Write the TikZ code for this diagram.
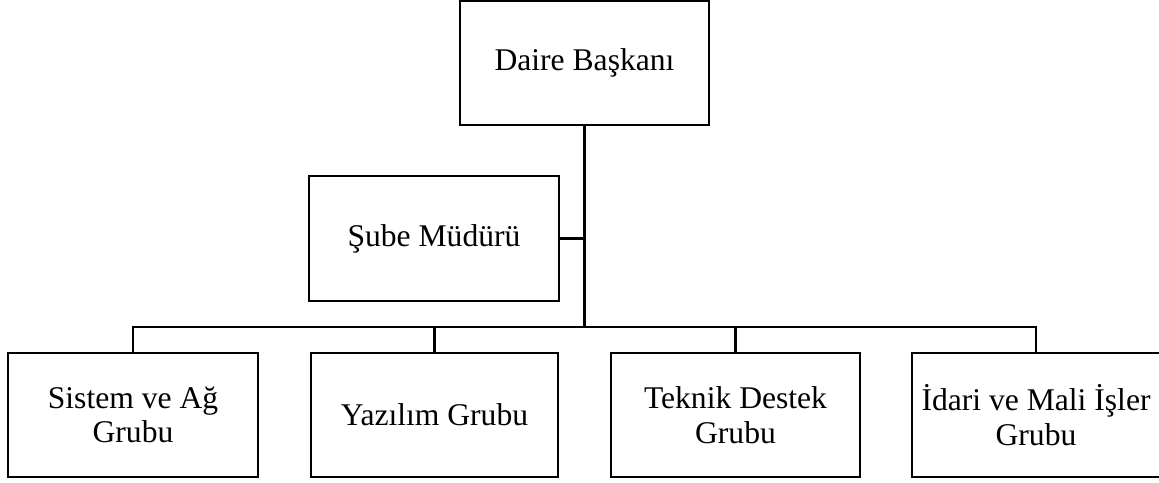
\documentclass[tikz,border=0pt]{standalone}
\usepackage{fontspec}
\setmainfont{Liberation Serif}
\begin{document}
\begin{tikzpicture}[x=0.5pt,y=-0.5pt,
  box/.style={draw=black,line width=1.3pt,rectangle,inner sep=0pt,align=center,
    font=\fontsize{15.8}{17.3}\selectfont,minimum height=62pt},
  conn/.style={draw=black,line width=1.3pt}]
\useasboundingbox (0,0) rectangle (1159,482);
\node[box,minimum width=124.5pt,minimum height=62pt] (d) at (584.5,63) {Daire Başkanı};
\node[box,minimum width=125pt,minimum height=62.5pt] (s) at (434,238.5) {Şube Müdürü};
\node[box,minimum width=125pt] (b1) at (133,415) {Sistem ve Ağ\\Grubu};
\node[box,minimum width=123.5pt] (b2) at (434.5,415) {Yazılım Grubu};
\node[box,minimum width=124.5pt] (b3) at (735.5,415) {Teknik Destek\\Grubu};
\node[box,minimum width=124pt] (b4) at (1036,415) {İdari ve Mali İşler\\Grubu};
\coordinate (bus) at (584.5,327);
\draw[conn] (d.south) -- (bus);
\draw[conn] (s.east) -- (s.east -| bus);
\draw[conn] (bus) -| (b1.north);
\draw[conn] (bus) -| (b2.north);
\draw[conn] (bus) -| (b3.north);
\draw[conn] (bus) -| (b4.north);
\end{tikzpicture}
\end{document}
